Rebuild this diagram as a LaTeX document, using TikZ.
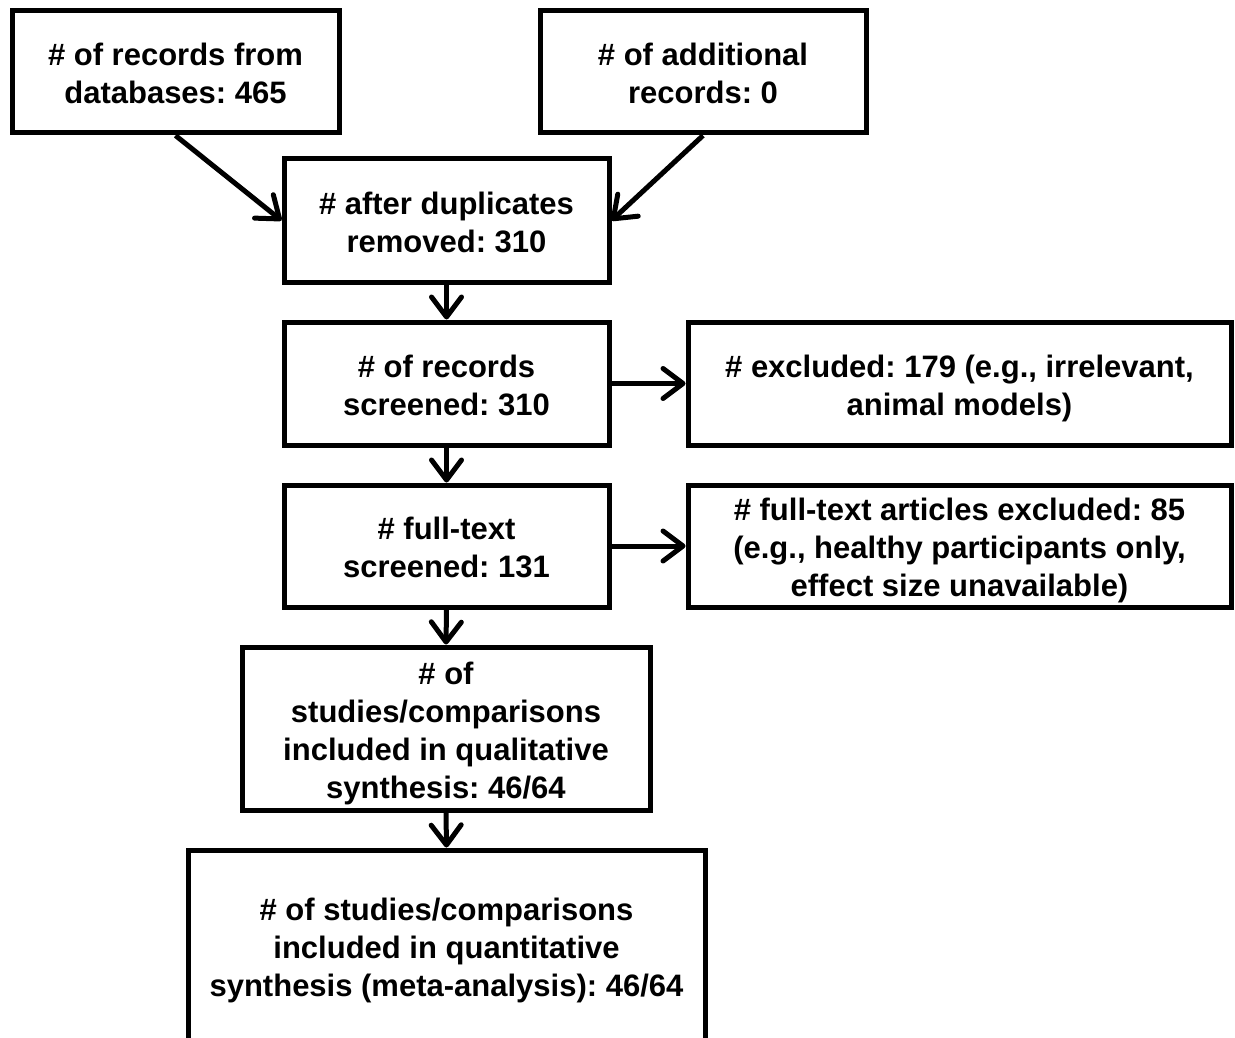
\documentclass[tikz,border=0pt]{standalone}
\usepackage{fontspec}
\setmainfont{Liberation Sans}
\usetikzlibrary{arrows.meta}
\frenchspacing
\newcommand\bxtext[1]{\raisebox{-5pt}[\height][\depth]{\begin{tabular}{@{}c@{}}#1\end{tabular}}}
\begin{document}
\begin{tikzpicture}[x=1pt,y=-1pt,
  box/.style={draw, line width=5pt, rectangle, inner sep=0pt,
    font=\fontsize{31}{38}\selectfont\bfseries},
  arr/.style={line width=5pt, -{Straight Barb[length=20pt,width=30pt,line cap=round,round]}}]
\clip (0,0) rectangle (1235,1038);
\useasboundingbox (0,0) rectangle (1235,1038);
\fill[white] (0,0) rectangle (1235,1038);
\node[box, minimum width=327pt, minimum height=122pt] (A) at (175.5,72) {\bxtext{\# of records from\\databases: 465}};
\node[box, minimum width=326pt, minimum height=122pt] (B) at (703,72) {\bxtext{\# of additional\\records: 0}};
\node[box, minimum width=325pt, minimum height=123pt] (C) at (446.5,220.5) {\bxtext{\# after duplicates\\removed: 310}};
\node[box, minimum width=325pt, minimum height=123pt] (D) at (446.5,383.5) {\bxtext{\# of records\\screened: 310}};
\node[box, minimum width=543pt, minimum height=123pt] (E) at (959.5,383.5) {\bxtext{\# excluded: 179 (e.g., irrelevant,\\animal models)}};
\node[box, minimum width=325pt, minimum height=122pt] (F) at (446.5,546) {\bxtext{\# full-text\\screened: 131}};
\node[box, minimum width=543pt, minimum height=122pt] (G) at (959.5,546) {\bxtext{\# full-text articles excluded: 85\\(e.g., healthy participants only,\\effect size unavailable)}};
\node[box, minimum width=408pt, minimum height=163pt] (H) at (446,728.5) {\bxtext{\# of\\studies/comparisons\\included in qualitative\\synthesis: 46/64}};
\node[box, minimum width=517pt, minimum height=191pt] (I) at (446.5,945.5) {\bxtext{\# of studies/comparisons\\included in quantitative\\synthesis (meta-analysis): 46/64}};
\draw[arr] (A.south) -- (C.west);
\draw[arr] (B.south) -- (C.east);
\draw[arr] (C.south) -- (D.north);
\draw[arr] (D.south) -- (F.north);
\draw[arr] (F.south) -- (H.north);
\draw[arr] (H.south) -- (I.north);
\draw[arr] (D.east) -- (E.west);
\draw[arr] (F.east) -- (G.west);
\end{tikzpicture}
\end{document}
